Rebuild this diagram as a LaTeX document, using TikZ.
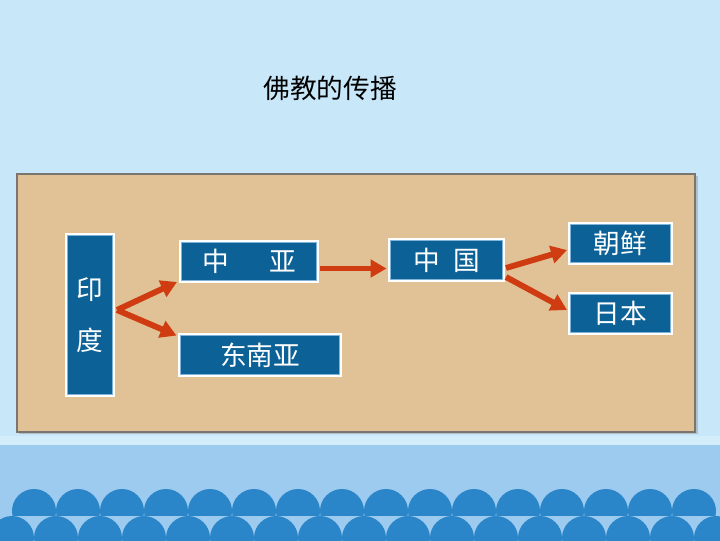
\documentclass[tikz,border=0pt]{standalone}
\usepackage{fontspec}
\setmainfont{Noto Sans CJK SC}
\usetikzlibrary{arrows.meta,calc}
\definecolor{sky}{HTML}{C8E7F9}
\definecolor{skylight}{HTML}{D3EDFB}
\definecolor{midblue}{HTML}{9DCBF0}
\definecolor{wave}{HTML}{2B86C9}
\definecolor{tanbg}{HTML}{E1C196}
\definecolor{tanedge}{HTML}{7A756E}
\definecolor{boxblue}{HTML}{0C6196}
\definecolor{innerline}{HTML}{7FB3D8}
\definecolor{arrowred}{HTML}{CF3C11}
\tikzset{
  cbox/.style={fill=boxblue, draw=white, line width=2.2pt, text=white,
    font=\fontsize{20}{24}\selectfont, inner sep=0pt, align=center},
  inner/.style={draw=innerline, line width=0.6pt},
  arr/.style={draw=arrowred, line width=4.4pt, -{Triangle[length=12pt,width=13pt]}},
}
\begin{document}
\begin{tikzpicture}[x=0.75pt,y=-0.75pt]
\useasboundingbox (0,0) rectangle (720,540);
% background
\fill[sky] (0,0) rectangle (720,445);
\fill[skylight] (0,436) rectangle (720,445);
\fill[midblue] (0,445) rectangle (720,540);
\begin{scope}
  \clip (0,445) rectangle (720,515);
  \foreach \k in {0,...,15} \fill[wave] (34+44*\k,511) circle (22);
\end{scope}
\begin{scope}
  \clip (0,445) rectangle (720,540);
  \foreach \k in {0,...,16} \fill[wave] (12+44*\k,538) circle (22);
\end{scope}
% title
\node[font=\fontsize{20}{24}\selectfont] (title) at (330,88) {佛教的传播};
% panel
\fill[black!40, opacity=0.5] (19,176) rectangle (698,434);
\draw[draw=tanedge, line width=1.2pt, fill=tanbg] (17,174) rectangle (695,432);
% boxes
\node[cbox, minimum width=35.25pt, minimum height=120.75pt] (india) at (90,315) {印\\[14pt]度};
\node[cbox, minimum width=102.75pt, minimum height=30pt] (zy) at (249,261.5) {中\hspace{1.5em}亚};
\node[cbox, minimum width=120.75pt, minimum height=30.75pt] (dny) at (260,355) {东南亚};
\node[cbox, minimum width=85.5pt, minimum height=30.75pt] (zg) at (446.5,260) {中\hspace{0.5em}国};
\node[cbox, minimum width=76.5pt, minimum height=30pt] (cx) at (620.5,243.5) {朝鲜};
\node[cbox, minimum width=76.5pt, minimum height=30pt] (rb) at (620.5,313.5) {日本};
\foreach \n in {india,zy,dny,zg,cx,rb}
  \draw[inner] ($(\n.north west)+(2.2,2.2)$) rectangle ($(\n.south east)+(-2.2,-2.2)$);
% arrows
\draw[arr] ($(india.east)+(2,-5)$) -- ($(zy.south west)+(-2,-1)$);
\draw[arr] ($(india.east)+(2,-5)$) -- ($(dny.north west)+(-1.5,2.5)$);
\draw[arr] ($(zy.east)+(1,7)$) -- ($(zg.west)+(-1.5,8.5)$);
\draw[arr] ($(zg.east)+(1,8)$) -- ($(cx.west)+(-1,6.5)$);
\draw[arr] ($(zg.east)+(1,17)$) -- ($(rb.west)+(-1,-3.5)$);
\end{tikzpicture}
\end{document}
